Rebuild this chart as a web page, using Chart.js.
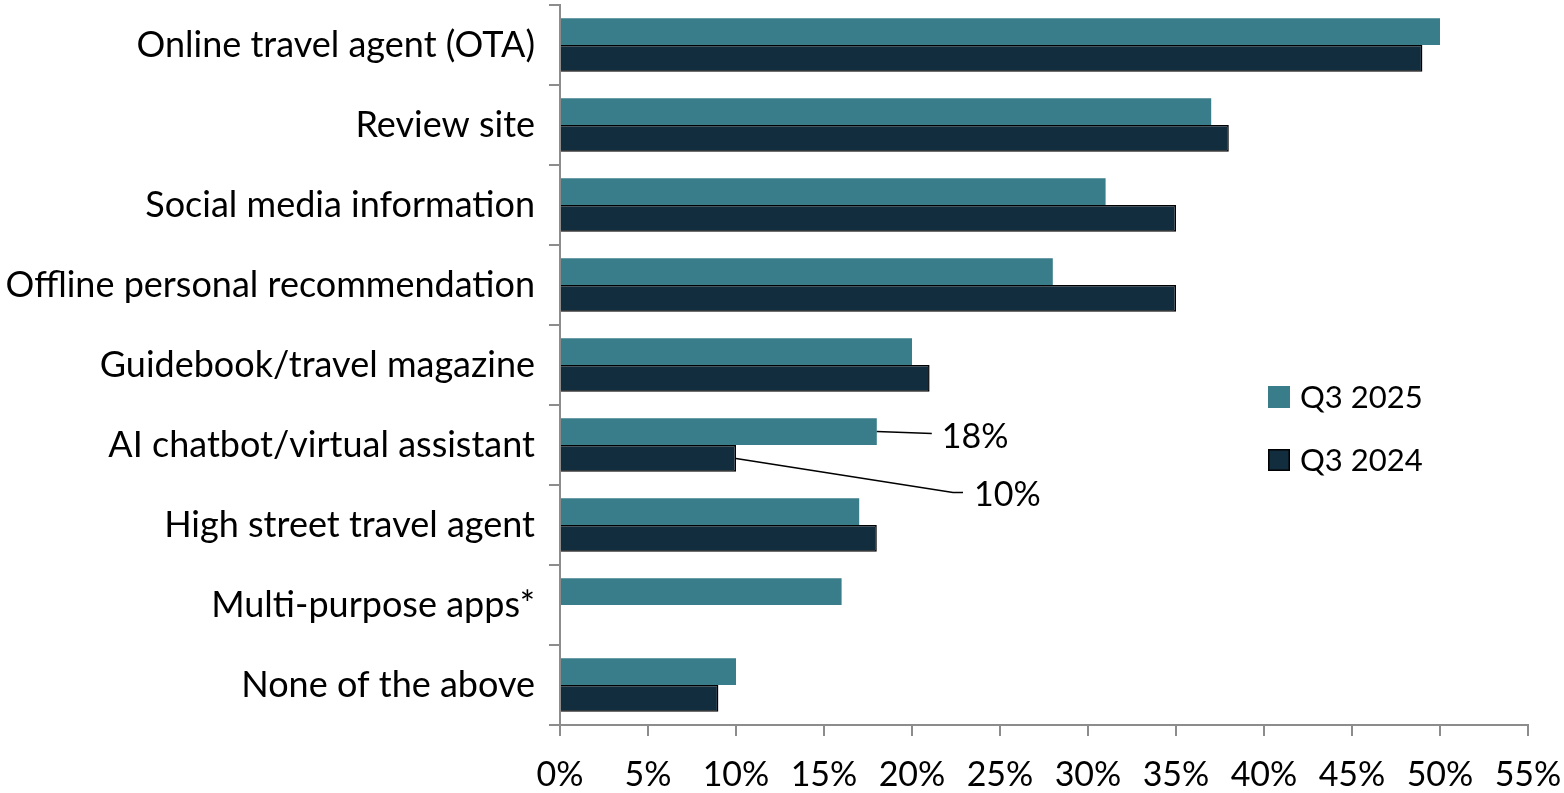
<!DOCTYPE html>
<html><head><meta charset="utf-8">
<script src="https://cdn.jsdelivr.net/npm/chart.js@4/dist/chart.umd.min.js"></script>
<style>html,body{margin:0;padding:0;background:#fff}#wrap{width:1564px;height:793px;position:relative}</style>
</head><body><div id="wrap"><canvas id="c"></canvas></div>
<script>
const categories = ["Online travel agent (OTA)","Review site","Social media information","Offline personal recommendation","Guidebook/travel magazine","AI chatbot/virtual assistant","High street travel agent","Multi-purpose apps*","None of the above"];
const q3_2025 = [50,37,31,28,20,18,17,16,10];
const q3_2024 = [49,38,35,35,21,10,18,null,9];
const xTicks = [0,5,10,15,20,25,30,35,40,45,50,55];
const annotations = [{series:0,index:5,text:"18%",dx:55,dy:2,hx:0,tx:65},{series:1,index:5,text:"10%",dx:217,dy:34,hx:10,tx:238}];
const FONT = "Lato, 'Source Sans Pro', sans-serif";

const extras = {
  id:'extras',
  afterDatasetsDraw(chart){
    const ctx = chart.ctx;
    ctx.save();
    ctx.textBaseline='middle';
    ctx.fillStyle='#000';
    ctx.font = "34px "+FONT;
    annotations.forEach(a=>{
      const el = chart.getDatasetMeta(a.series).data[a.index];
      const x0 = el.x, y0 = el.y;
      ctx.strokeStyle='#000'; ctx.lineWidth=1.5;
      ctx.beginPath(); ctx.moveTo(x0,y0); ctx.lineTo(x0+a.dx,y0+a.dy); ctx.lineTo(x0+a.dx+a.hx,y0+a.dy); ctx.stroke();
      ctx.textAlign='left';
      ctx.fillText(a.text, x0+a.tx, y0+a.dy+3);
    });
    // legend
    ctx.font = "31px "+FONT;
    const items=[{t:"Q3 2025",c:"#3a7d8a",b:null,y:397},{t:"Q3 2024",c:"#122d3e",b:"#000",y:460}];
    items.forEach(it=>{
      ctx.fillStyle=it.c; ctx.fillRect(1268,it.y-11,22,22);
      if(it.b){ctx.strokeStyle=it.b;ctx.lineWidth=1.5;ctx.strokeRect(1268.75,it.y-10.25,20.5,20.5);}
      ctx.fillStyle='#000'; ctx.textAlign='left'; ctx.fillText(it.t,1300,it.y+1);
    });
    ctx.restore();
  }
};

new Chart(document.getElementById('c'),{
  type:'bar',
  data:{labels:categories,datasets:[
    {label:'Q3 2025',data:q3_2025,backgroundColor:'#3a7d8a',borderWidth:0},
    {label:'Q3 2024',data:q3_2024,backgroundColor:'#122d3e',borderColor:'#000',borderWidth:1.5}
  ]},
  options:{
    indexAxis:'y',responsive:true,maintainAspectRatio:false,animation:false,
    categoryPercentage:0.67,barPercentage:1,
    layout:{padding:{top:5,right:36,left:0,bottom:0}},
    plugins:{legend:{display:false},tooltip:{enabled:false}},
    scales:{
      x:{min:0,max:55,
        afterBuildTicks(s){s.ticks=xTicks.map(v=>({value:v}));},
        afterFit(s){s.height=68;s.paddingLeft=0;s.paddingRight=0;},
        ticks:{callback:v=>v+'%',color:'#000',font:{family:FONT,size:34},padding:19,maxRotation:0,autoSkip:false},
        grid:{drawOnChartArea:false,drawTicks:true,tickLength:11,color:'#8c8c8c',lineWidth:2},
        border:{color:'#8c8c8c',width:2}},
      y:{
        afterFit(s){s.width=560;s.paddingTop=0;s.paddingBottom=0;},
        ticks:{color:'#000',font:{family:FONT,size:36},padding:14,autoSkip:false},
        grid:{drawOnChartArea:false,drawTicks:true,tickLength:11,color:'#8c8c8c',lineWidth:2,offset:true},
        border:{color:'#8c8c8c',width:2}}
    }
  },
  plugins:[extras]
});
</script></body></html>
